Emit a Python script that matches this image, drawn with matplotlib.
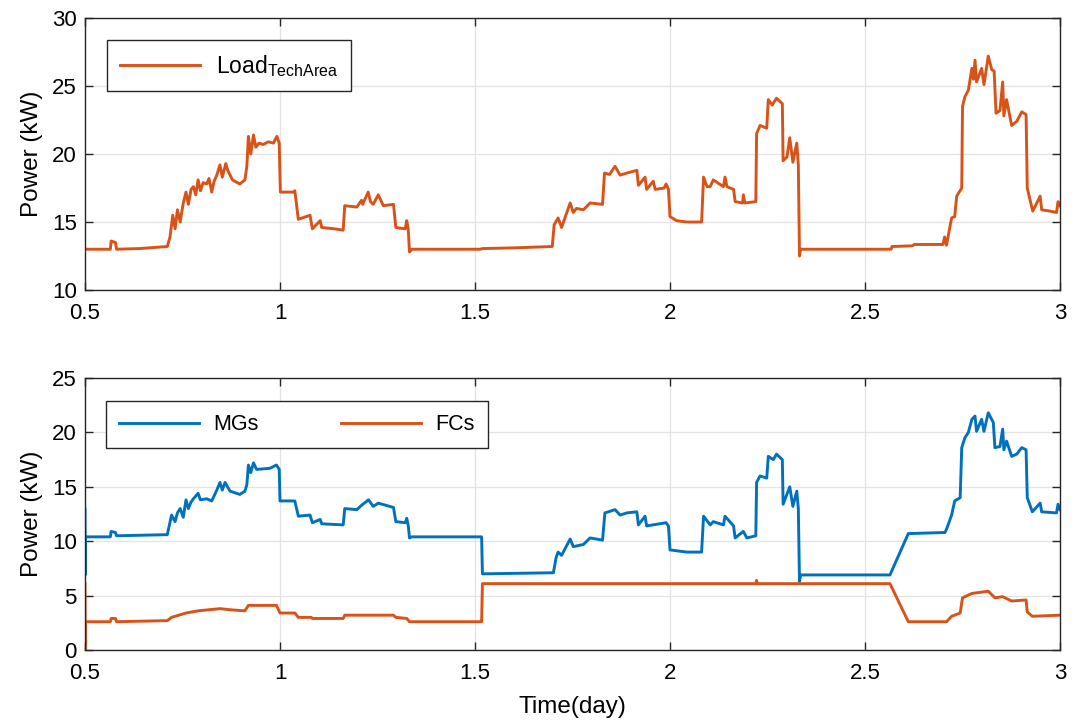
import matplotlib
matplotlib.use("Agg")
import matplotlib.pyplot as plt

plt.rcParams["font.family"] = "Liberation Sans"
plt.rcParams["mathtext.fontset"] = "custom"
plt.rcParams["mathtext.rm"] = "Liberation Sans"
plt.rcParams["mathtext.it"] = "Liberation Sans:italic"

# --- data (day, kW) ---
load_t = [0.500, 0.565, 0.567, 0.578, 0.581, 0.640, 0.711, 0.718, 0.725, 0.731,
          0.737, 0.744, 0.752, 0.759, 0.765, 0.772, 0.778, 0.784, 0.790, 0.796,
          0.803, 0.812, 0.818, 0.825, 0.831, 0.838, 0.846, 0.852, 0.861, 0.866,
          0.872, 0.878, 0.884, 0.897, 0.910, 0.915, 0.919, 0.925, 0.932, 0.938,
          0.946, 0.957, 0.970, 0.983, 0.992, 0.998, 1.001, 1.034, 1.038, 1.047,
          1.077, 1.083, 1.103, 1.107, 1.140, 1.162, 1.166, 1.197, 1.209, 1.212,
          1.226, 1.232, 1.239, 1.252, 1.265, 1.291, 1.297, 1.321, 1.325, 1.329,
          1.332, 1.338, 1.513, 1.520, 1.600, 1.698, 1.703, 1.713, 1.722, 1.744,
          1.752, 1.760, 1.778, 1.795, 1.827, 1.832, 1.845, 1.859, 1.872, 1.889,
          1.915, 1.919, 1.936, 1.940, 1.957, 1.962, 1.985, 1.990, 1.996, 2.000,
          2.017, 2.043, 2.081, 2.086, 2.095, 2.103, 2.111, 2.137, 2.141, 2.146,
          2.163, 2.167, 2.186, 2.188, 2.192, 2.220, 2.222, 2.231, 2.248, 2.252,
          2.262, 2.273, 2.288, 2.290, 2.300, 2.307, 2.315, 2.325, 2.329, 2.332,
          2.335, 2.567, 2.569, 2.622, 2.626, 2.700, 2.704, 2.709, 2.722, 2.730,
          2.735, 2.748, 2.750, 2.756, 2.765, 2.774, 2.778, 2.782, 2.786, 2.799,
          2.805, 2.816, 2.825, 2.831, 2.836, 2.846, 2.853, 2.856, 2.863, 2.876,
          2.889, 2.902, 2.913, 2.916, 2.930, 2.949, 2.953, 2.975, 2.991, 2.995,
          3.000]
load_kw = [13.0, 13.0, 13.6, 13.5, 13.0, 13.05, 13.2, 13.9, 15.5, 14.5,
           15.9, 15.0, 16.4, 17.2, 16.3, 17.4, 17.6, 17.0, 18.1, 17.3,
           17.9, 17.8, 18.2, 17.2, 18.0, 18.45, 19.2, 18.3, 19.3, 18.8,
           18.45, 18.1, 18.0, 17.8, 18.1, 19.1, 21.3, 20.0, 21.4, 20.5,
           20.8, 20.7, 20.9, 20.8, 21.3, 20.8, 17.2, 17.2, 17.3, 15.2,
           15.5, 14.5, 15.1, 14.6, 14.5, 14.4, 16.2, 16.1, 16.6, 16.3,
           17.2, 16.5, 16.3, 17.0, 16.2, 16.3, 14.6, 14.5, 15.1, 14.4,
           12.8, 13.0, 13.0, 13.05, 13.1, 13.2, 14.8, 15.3, 14.6, 16.4,
           15.7, 16.0, 15.9, 16.4, 16.3, 18.6, 18.5, 19.1, 18.45, 18.6,
           18.8, 17.7, 18.3, 17.4, 18.0, 17.4, 17.5, 17.8, 17.4, 15.4,
           15.1, 15.0, 15.0, 18.3, 17.6, 17.6, 18.1, 17.6, 18.3, 17.6,
           17.4, 16.5, 16.4, 17.0, 16.4, 16.5, 21.5, 22.1, 21.9, 24.0,
           23.6, 24.1, 23.7, 19.5, 19.8, 21.2, 19.4, 20.8, 19.2, 12.5,
           13.0, 13.0, 13.2, 13.25, 13.35, 13.35, 13.9, 13.3, 15.3, 15.4,
           16.9, 17.5, 23.5, 24.2, 24.7, 26.3, 25.5, 26.9, 25.3, 26.3,
           25.1, 27.2, 26.2, 26.1, 23.0, 23.2, 25.3, 22.8, 24.0, 22.1,
           22.4, 23.1, 22.9, 17.5, 15.8, 16.9, 15.9, 15.8, 15.7, 16.5,
           16.2]

mg_t = [0.500, 0.5005, 0.501, 0.565, 0.567, 0.578, 0.581, 0.711, 0.722, 0.731,
        0.737, 0.744, 0.752, 0.759, 0.765, 0.772, 0.778, 0.790, 0.796, 0.812,
        0.825, 0.838, 0.846, 0.852, 0.859, 0.872, 0.897, 0.910, 0.915, 0.919,
        0.925, 0.932, 0.940, 0.974, 0.991, 0.998, 1.000, 1.038, 1.047, 1.077,
        1.083, 1.103, 1.107, 1.162, 1.166, 1.197, 1.209, 1.227, 1.239, 1.252,
        1.291, 1.297, 1.321, 1.325, 1.329, 1.332, 1.338, 1.517, 1.519, 1.701,
        1.708, 1.713, 1.722, 1.744, 1.752, 1.778, 1.795, 1.827, 1.833, 1.859,
        1.872, 1.889, 1.915, 1.919, 1.936, 1.940, 1.957, 1.990, 1.996, 2.000,
        2.043, 2.081, 2.086, 2.103, 2.111, 2.137, 2.141, 2.163, 2.167, 2.188,
        2.197, 2.220, 2.222, 2.231, 2.248, 2.252, 2.265, 2.273, 2.288, 2.290,
        2.307, 2.315, 2.325, 2.329, 2.332, 2.335, 2.564, 2.611, 2.705, 2.709,
        2.722, 2.730, 2.744, 2.748, 2.756, 2.765, 2.774, 2.782, 2.786, 2.799,
        2.805, 2.816, 2.829, 2.833, 2.846, 2.853, 2.856, 2.863, 2.876, 2.889,
        2.902, 2.913, 2.916, 2.929, 2.949, 2.953, 2.991, 2.995, 3.000]
mg_kw = [12.9, 6.9, 10.4, 10.4, 10.9, 10.8, 10.5, 10.6, 12.4, 11.8,
         12.6, 13.0, 12.2, 13.8, 13.0, 13.6, 13.9, 14.4, 13.8, 13.9,
         13.7, 14.7, 15.4, 14.7, 15.4, 14.6, 14.3, 14.6, 15.2, 17.0,
         16.3, 17.2, 16.6, 16.7, 17.0, 16.6, 13.7, 13.7, 12.3, 12.4,
         11.7, 12.0, 11.6, 11.5, 13.0, 12.9, 13.3, 13.8, 13.2, 13.5,
         13.1, 11.8, 11.7, 12.1, 11.4, 10.3, 10.4, 10.4, 7.0, 7.1,
         8.5, 9.0, 8.7, 10.2, 9.5, 9.7, 10.3, 10.1, 12.6, 12.9,
         12.4, 12.6, 12.7, 11.5, 12.3, 11.4, 11.5, 11.7, 11.4, 9.2,
         9.0, 9.0, 12.3, 11.5, 11.8, 11.5, 12.3, 11.4, 10.3, 10.9,
         10.3, 10.5, 15.4, 16.0, 15.8, 17.8, 17.5, 18.0, 17.5, 13.4,
         15.0, 13.2, 14.6, 13.0, 6.3, 6.9, 6.9, 10.7, 10.8, 11.1,
         12.4, 13.7, 14.0, 18.6, 19.5, 20.0, 21.2, 21.5, 20.1, 21.2,
         20.1, 21.8, 20.9, 18.6, 18.7, 20.3, 18.4, 19.2, 17.8, 18.0,
         18.6, 18.4, 14.0, 12.7, 13.5, 12.7, 12.6, 13.4, 12.9]

fc_t = [0.500, 0.5005, 0.501, 0.565, 0.567, 0.578, 0.581, 0.711, 0.722, 0.759,
        0.790, 0.846, 0.872, 0.910, 0.919, 0.991, 1.000, 1.038, 1.047, 1.080,
        1.083, 1.162, 1.166, 1.291, 1.297, 1.325, 1.332, 1.517, 1.519, 2.220,
        2.222, 2.224, 2.564, 2.611, 2.709, 2.722, 2.744, 2.750, 2.774, 2.816,
        2.833, 2.853, 2.876, 2.913, 2.916, 2.929, 3.000]
fc_kw = [6.1, 0.0, 2.6, 2.6, 2.9, 2.9, 2.6, 2.7, 3.0, 3.4,
         3.6, 3.8, 3.7, 3.6, 4.1, 4.1, 3.4, 3.4, 3.0, 3.0,
         2.9, 2.9, 3.2, 3.2, 3.0, 2.9, 2.6, 2.6, 6.1, 6.1,
         6.4, 6.1, 6.1, 2.6, 2.6, 3.1, 3.4, 4.8, 5.2, 5.4,
         4.8, 4.9, 4.5, 4.6, 3.5, 3.1, 3.2]

BLUE = "#0072BD"
ORANGE = "#D95319"
EDGE = "#262626"

fig = plt.figure(figsize=(10.8, 7.24), dpi=100)
ax1 = fig.add_axes([0.0787, 0.5994, 0.9028, 0.3757])
ax2 = fig.add_axes([0.0787, 0.1022, 0.9028, 0.3757])


def style(ax):
    ax.grid(True, color="#e3e3e3", linewidth=0.9)
    ax.set_axisbelow(True)
    ax.tick_params(direction="in", top=True, right=True, labelsize=16,
                   length=6, width=1, color=EDGE)
    ax.tick_params(axis="x", pad=9)
    ax.tick_params(axis="y", pad=6)
    for s in ax.spines.values():
        s.set_color(EDGE)
        s.set_linewidth(1.0)
    ax.set_xlim(0.5, 3)
    ax.set_xticks([0.5, 1, 1.5, 2, 2.5, 3])
    ax.set_xticklabels(["0.5", "1", "1.5", "2", "2.5", "3"])
    ax.set_ylabel("Power (kW)", fontsize=17.5, labelpad=6)


# top panel
ax1.plot(load_t, load_kw, color=ORANGE, linewidth=2.1, label=r"Load$_{\mathrm{TechArea}}$")
style(ax1)
ax1.set_ylim(10, 30)
ax1.set_yticks([10, 15, 20, 25, 30])
leg1 = ax1.legend(loc="upper left", bbox_to_anchor=(0.0226, 0.919), borderaxespad=0,
                  fontsize=16.5, handlelength=3.5, fancybox=False, framealpha=1,
                  edgecolor=EDGE, borderpad=0.55, handletextpad=0.7)
leg1.get_frame().set_linewidth(1.0)

# bottom panel
ax2.plot(mg_t, mg_kw, color=BLUE, linewidth=2.1, label="MGs")
ax2.plot(fc_t, fc_kw, color=ORANGE, linewidth=2.1, label="FCs")
style(ax2)
ax2.set_ylim(0, 25)
ax2.set_yticks([0, 5, 10, 15, 20, 25])
ax2.set_xlabel("Time(day)", fontsize=17.5, labelpad=9)
leg2 = ax2.legend(loc="upper left", bbox_to_anchor=(0.0216, 0.915), borderaxespad=0,
                  ncol=2, fontsize=15.5, handlelength=3.7, columnspacing=3.8,
                  fancybox=False, framealpha=1, edgecolor=EDGE, borderpad=0.6,
                  handletextpad=0.7)
leg2.get_frame().set_linewidth(1.0)

fig.savefig("out.png", dpi=100)
